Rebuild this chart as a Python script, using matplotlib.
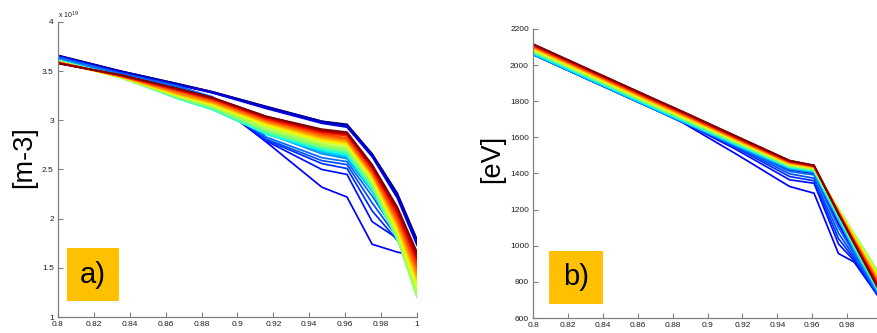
import numpy as np
import matplotlib.pyplot as plt
from matplotlib.patches import Rectangle

plt.rcParams['font.family'] = ['Liberation Sans', 'DejaVu Sans']

# normalised radius of the profile points
rho_a = [0.8, 0.835, 0.867, 0.886, 0.916, 0.947, 0.961, 0.975, 0.989, 1.0]
rho_b = [0.8, 0.835, 0.867, 0.886, 0.916, 0.947, 0.961, 0.975, 0.984, 1.0]

# a) density [1e19 m-3]: one list per radial point, one value per time slice (first -> last)
ne_0800 = [3.66, 3.66, 3.65, 3.65, 3.65, 3.65, 3.64, 3.64, 3.64,
           3.62, 3.62, 3.61, 3.61, 3.61, 3.61, 3.61, 3.60, 3.60, 3.60, 3.60, 3.60, 3.60, 3.59,
           3.59, 3.59, 3.59, 3.59, 3.59, 3.59, 3.59, 3.59, 3.58, 3.58, 3.58, 3.58, 3.58]
ne_0835 = [3.50, 3.50, 3.49, 3.49, 3.47, 3.48, 3.48, 3.48, 3.47,
           3.46, 3.45, 3.45, 3.44, 3.44, 3.44, 3.44, 3.44, 3.44, 3.43, 3.44, 3.44, 3.44, 3.44,
           3.44, 3.44, 3.45, 3.45, 3.45, 3.45, 3.45, 3.45, 3.46, 3.46, 3.46, 3.46, 3.46]
ne_0867 = [3.37, 3.37, 3.36, 3.36, 3.33, 3.34, 3.34, 3.35, 3.34,
           3.25, 3.24, 3.24, 3.23, 3.22, 3.22, 3.22, 3.23, 3.23, 3.23, 3.24, 3.24, 3.25, 3.25,
           3.26, 3.26, 3.27, 3.27, 3.28, 3.29, 3.30, 3.30, 3.31, 3.31, 3.32, 3.32, 3.32]
ne_0886 = [3.29, 3.29, 3.28, 3.28, 3.20, 3.21, 3.22, 3.23, 3.24,
           3.14, 3.13, 3.12, 3.12, 3.11, 3.11, 3.12, 3.12, 3.13, 3.13, 3.14, 3.15, 3.15, 3.16,
           3.17, 3.17, 3.18, 3.18, 3.19, 3.20, 3.21, 3.21, 3.22, 3.22, 3.23, 3.23, 3.23]
ne_0916 = [3.14, 3.14, 3.13, 3.12, 2.78, 2.79, 2.80, 2.81, 2.83,
           2.87, 2.87, 2.86, 2.86, 2.86, 2.87, 2.88, 2.88, 2.89, 2.90, 2.91, 2.93, 2.94, 2.95,
           2.96, 2.97, 2.98, 2.98, 2.99, 3.00, 3.01, 3.01, 3.02, 3.03, 3.03, 3.04, 3.04]
ne_0947 = [2.99, 2.99, 2.98, 2.97, 2.32, 2.50, 2.56, 2.59, 2.62,
           2.66, 2.67, 2.68, 2.69, 2.70, 2.71, 2.72, 2.72, 2.73, 2.74, 2.75, 2.76, 2.78, 2.79,
           2.80, 2.81, 2.82, 2.83, 2.84, 2.85, 2.86, 2.87, 2.88, 2.89, 2.89, 2.90, 2.91]
ne_0961 = [2.96, 2.95, 2.94, 2.93, 2.22, 2.45, 2.51, 2.55, 2.58,
           2.61, 2.62, 2.63, 2.64, 2.65, 2.66, 2.67, 2.68, 2.69, 2.70, 2.71, 2.72, 2.74, 2.75,
           2.76, 2.77, 2.78, 2.79, 2.80, 2.81, 2.82, 2.84, 2.85, 2.86, 2.86, 2.87, 2.88]
ne_0975 = [2.66, 2.65, 2.64, 2.63, 1.74, 1.97, 2.08, 2.16, 2.23,
           2.28, 2.28, 2.29, 2.29, 2.30, 2.31, 2.32, 2.33, 2.34, 2.35, 2.36, 2.38, 2.39, 2.41,
           2.42, 2.43, 2.44, 2.45, 2.46, 2.47, 2.48, 2.50, 2.51, 2.52, 2.53, 2.54, 2.55]
ne_0989 = [2.26, 2.25, 2.23, 2.21, 1.66, 1.80, 1.78, 1.81, 1.84,
           1.82, 1.81, 1.80, 1.80, 1.79, 1.79, 1.79, 1.80, 1.80, 1.80, 1.82, 1.84, 1.86, 1.88,
           1.90, 1.92, 1.93, 1.95, 1.97, 1.99, 2.01, 2.03, 2.05, 2.07, 2.09, 2.10, 2.12]
ne_1000 = [1.79, 1.77, 1.75, 1.73, 1.62, 1.63, 1.64, 1.65, 1.66,
           1.55, 1.51, 1.47, 1.44, 1.40, 1.36, 1.32, 1.28, 1.24, 1.20, 1.23, 1.26, 1.29, 1.32,
           1.35, 1.37, 1.40, 1.42, 1.45, 1.48, 1.51, 1.54, 1.57, 1.59, 1.61, 1.64, 1.66]

# b) temperature [eV], same layout
te_0800 = [2060, 2060, 2059, 2059, 2060, 2060, 2061, 2062, 2063,
           2058, 2060, 2063, 2065, 2068, 2070, 2072, 2074, 2076, 2078, 2080, 2083, 2085, 2088,
           2090, 2093, 2095, 2098, 2100, 2102, 2105, 2107, 2110, 2112, 2114, 2115, 2117]
te_0835 = [1907, 1907, 1906, 1906, 1907, 1907, 1908, 1909, 1910,
           1905, 1907, 1910, 1912, 1915, 1917, 1919, 1921, 1923, 1925, 1927, 1930, 1932, 1935,
           1937, 1940, 1942, 1945, 1947, 1949, 1952, 1954, 1957, 1959, 1961, 1962, 1964]
te_0867 = [1767, 1767, 1766, 1766, 1767, 1768, 1768, 1769, 1770,
           1765, 1767, 1770, 1772, 1775, 1777, 1779, 1781, 1783, 1785, 1787, 1790, 1792, 1795,
           1797, 1800, 1802, 1805, 1807, 1809, 1812, 1814, 1817, 1819, 1821, 1822, 1824]
te_0886 = [1685, 1685, 1684, 1684, 1680, 1684, 1686, 1687, 1688,
           1683, 1685, 1688, 1690, 1693, 1695, 1697, 1699, 1701, 1703, 1705, 1708, 1710, 1713,
           1715, 1718, 1720, 1723, 1725, 1727, 1730, 1732, 1735, 1737, 1739, 1740, 1742]
te_0916 = [1556, 1556, 1555, 1555, 1510, 1535, 1545, 1550, 1553,
           1555, 1557, 1559, 1561, 1564, 1566, 1568, 1570, 1572, 1574, 1576, 1578, 1580, 1583,
           1585, 1587, 1589, 1591, 1593, 1595, 1597, 1599, 1601, 1603, 1605, 1607, 1609]
te_0947 = [1424, 1423, 1422, 1421, 1328, 1365, 1383, 1398, 1411,
           1425, 1428, 1430, 1433, 1435, 1437, 1438, 1440, 1442, 1443, 1445, 1447, 1449, 1451,
           1453, 1455, 1456, 1458, 1460, 1462, 1463, 1465, 1467, 1468, 1469, 1471, 1472]
te_0961 = [1404, 1403, 1402, 1401, 1291, 1346, 1360, 1374, 1392,
           1405, 1408, 1410, 1413, 1415, 1417, 1418, 1420, 1422, 1423, 1425, 1427, 1428, 1430,
           1431, 1433, 1434, 1436, 1437, 1438, 1440, 1441, 1442, 1443, 1444, 1444, 1445]
te_0975 = [1135, 1130, 1125, 1120, 957, 1010, 1040, 1070, 1100,
           1140, 1145, 1150, 1155, 1160, 1163, 1166, 1169, 1172, 1206, 1204, 1202, 1200, 1198,
           1196, 1194, 1192, 1190, 1188, 1186, 1184, 1182, 1180, 1179, 1178, 1177, 1176]
te_0984 = [972, 968, 964, 960, 910, 918, 928, 940, 955,
           975, 980, 985, 990, 995, 998, 1001, 1004, 1007, 1068, 1064, 1060, 1056, 1052,
           1048, 1044, 1040, 1036, 1032, 1029, 1026, 1023, 1020, 1018, 1016, 1014, 1012]
te_1000 = [688, 686, 684, 682, 690, 692, 695, 698, 700,
           700, 703, 706, 709, 712, 714, 716, 718, 720, 820, 814, 808, 802, 796,
           790, 784, 778, 772, 766, 760, 754, 748, 742, 737, 732, 727, 722]

x_ticks = [0.8, 0.82, 0.84, 0.86, 0.88, 0.9, 0.92, 0.94, 0.96, 0.98, 1.0]
x_tick_labels_a = ['0.8', '0.82', '0.84', '0.86', '0.88', '0.9', '0.92', '0.94', '0.96', '0.98', '1']
# the last label of panel b falls outside the cropped picture
x_tick_labels_b = ['0.8', '0.82', '0.84', '0.86', '0.88', '0.9', '0.92', '0.94', '0.96', '0.98', '']
ne_ticks = [1, 1.5, 2, 2.5, 3, 3.5, 4]
ne_tick_labels = ['1', '1.5', '2', '2.5', '3', '3.5', '4']
te_ticks = [600, 800, 1000, 1200, 1400, 1600, 1800, 2000, 2200]

ne_table = np.array([ne_0800, ne_0835, ne_0867, ne_0886, ne_0916,
                     ne_0947, ne_0961, ne_0975, ne_0989, ne_1000]).T
te_table = np.array([te_0800, te_0835, te_0867, te_0886, te_0916,
                     te_0947, te_0961, te_0975, te_0984, te_1000]).T

AX_GREY = '#808080'
BOX_ORANGE = '#FFC000'


def style_axes(ax, xlabels):
    for side in ('top', 'right'):
        ax.spines[side].set_visible(False)
    for side in ('left', 'bottom'):
        ax.spines[side].set_color(AX_GREY)
        ax.spines[side].set_linewidth(0.9)
    ax.tick_params(direction='in', length=3.5, width=0.8, color=AX_GREY,
                   labelsize=6, labelcolor='#202020', pad=3)
    ax.set_xticks(x_ticks)
    ax.set_xticklabels(xlabels)


def draw_profiles(ax, rho, table):
    colors = plt.cm.jet(np.linspace(0, 1, len(table)))
    for prof, c in zip(table, colors):
        ax.plot(rho, prof, color=c, lw=1.25, solid_joinstyle='miter')


def label_box(fig, x0, y0, w, h, txt):
    fig.add_artist(Rectangle((x0, y0), w, h, transform=fig.transFigure,
                             facecolor=BOX_ORANGE, edgecolor='none', zorder=5))
    fig.text(x0 + w / 2, y0 + h / 2, txt, ha='center', va='center',
             fontsize=21, color='black', zorder=6)


fig = plt.figure(figsize=(8.77, 3.33), dpi=100)

# a) density
ax1 = fig.add_axes([0.0661, 0.048, 0.4094, 0.886])
draw_profiles(ax1, rho_a, ne_table)
ax1.set_xlim(0.8, 1.0)
ax1.set_ylim(1, 4)
ax1.set_yticks(ne_ticks)
ax1.set_yticklabels(ne_tick_labels)
style_axes(ax1, x_tick_labels_a)
fig.text(58 / 877, 1 - 15 / 333, r'x 10$^{19}$', fontsize=5, color='#202020', va='center')
fig.text(24 / 877, 0.529, '[m-3]', rotation=90, fontsize=19.5, ha='center', va='center')
label_box(fig, 0.0761, 0.0961, 0.0596, 0.158, 'a)')

# b) temperature
ax2 = fig.add_axes([0.6078, 0.045, 0.398, 0.868])
draw_profiles(ax2, rho_b, te_table)
ax2.set_xlim(0.8, 1.0)
ax2.set_ylim(600, 2200)
ax2.set_yticks(te_ticks)
style_axes(ax2, x_tick_labels_b)
fig.text(492.5 / 877, 0.5225, '[eV]', rotation=90, fontsize=19.5, ha='center', va='center')
label_box(fig, 0.6263, 0.0871, 0.0616, 0.160, 'b)')

fig.savefig('out.png', dpi=100)
